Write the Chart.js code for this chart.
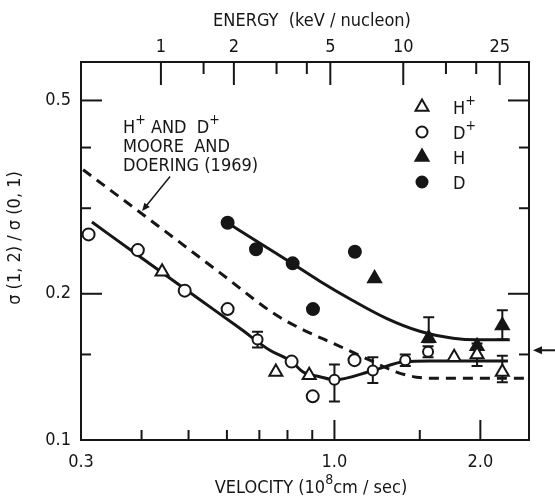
<!DOCTYPE html>
<html>
<head>
<meta charset="utf-8">
<title>σ(1,2)/σ(0,1) vs velocity</title>
<script src="https://cdn.jsdelivr.net/npm/chart.js@4"></script>
<style>
  html, body { margin: 0; padding: 0; background: #fff; }
  canvas { display: block; }
</style>
</head>
<body>
<canvas id="grafico" width="555" height="500"></canvas>
<script>
// velocity in 10^8 cm/sec, ratio sigma(1,2)/sigma(0,1)

// D+ (open circles)
const dPlusV  = [0.311, 0.393, 0.491, 0.602, 0.694, 0.816, 0.902, 1.00, 1.10, 1.20, 1.40, 1.56];
const dPlusS  = [0.265, 0.246, 0.203, 0.186, 0.161, 0.145, 0.123, 0.133, 0.146, 0.139, 0.146, 0.152];
const dPlusLo = [null, null, null, null, 0.155, null, null, 0.120, null, 0.131, 0.142, 0.148];
const dPlusHi = [null, null, null, null, 0.167, null, null, 0.143, null, 0.148, 0.150, 0.156];

// H+ (open triangles)
const hPlusV  = [0.441, 0.757, 0.887, 1.766, 1.969, 2.22];
const hPlusS  = [0.222, 0.138, 0.136, 0.148, 0.150, 0.138];
const hPlusLo = [null, null, null, null, 0.142, 0.1315];
const hPlusHi = [null, null, null, null, 0.158, 0.149];

// H (filled triangles)
const hV  = [1.21, 1.565, 1.969, 2.22];
const hS  = [0.215, 0.162, 0.156, 0.172];
const hLo = [null, 0.159, null, 0.161];
const hHi = [null, 0.179, null, 0.185];

// D (filled circles)
const dV = [0.602, 0.689, 0.820, 0.903, 1.102];
const dS = [0.280, 0.247, 0.231, 0.186, 0.244];

// solid curve through the ions
const ionFitV = [0.316, 0.397, 0.528, 0.638, 0.736, 0.816, 0.862, 0.933, 1.00, 1.20, 1.40, 1.57, 2.28];
const ionFitS = [0.281, 0.2384, 0.1944, 0.1698, 0.153, 0.145, 0.138, 0.135, 0.133, 0.139, 0.145, 0.1455, 0.1455];

// solid curve through the neutrals
const neuFitV = [0.602, 0.702, 0.820, 0.933, 1.093, 1.28, 1.50, 1.757, 1.969, 2.30];
const neuFitS = [0.280, 0.254, 0.2306, 0.2123, 0.1935, 0.178, 0.1674, 0.162, 0.1608, 0.1608];

// Moore and Doering (1969), dashed
const mdV = [0.303, 0.4165, 0.580, 0.757, 0.862, 1.01, 1.183, 1.343, 1.477, 1.624, 2.52];
const mdS = [0.360, 0.2839, 0.2211, 0.181, 0.1686, 0.157, 0.146, 0.138, 0.1347, 0.134, 0.134];

// axes
const velMin = 0.3, velMax = 2.52;
const sigMin = 0.1, sigMax = 0.6;
const velTicks = [0.3, 1.0, 2.0];
const velLabels = ['0.3', '1.0', '2.0'];
const velMajor = [1.0, 2.0];
const velMinor = [0.4, 0.5, 0.6, 0.7, 0.8, 0.9, 1.5];
const sigTicks = [0.1, 0.2, 0.5];
const sigLabels = ['0.1', '0.2', '0.5'];
const sigMajor = [0.2, 0.5];
const sigMinor = [0.15, 0.3, 0.4];
const enTicks = [1, 2, 5, 10, 25];
const enLabels = ['1', '2', '5', '10', '25'];
const enMinor = [1.5, 3, 4, 15, 20];
const KEV_V2 = 5.2;        // keV/nucleon for v = 1e8 cm/sec
const sideMark = 0.153;    // arrow on the right border

const FONTE = '"Liberation Sans Narrow", "DejaVu Sans Condensed", "Liberation Sans", sans-serif';
const COR = '#161616';

let meuGrafico = null;

document.addEventListener('DOMContentLoaded', () => {
    desenharGrafico();
});

function pontos(xs, ys, lo, hi) {
    return xs.map((x, i) => ({ x: x, y: ys[i], lo: lo ? lo[i] : null, hi: hi ? hi[i] : null }));
}

// splits "H^+" style text into normal and superscript pieces
function partes(txt) {
    const out = [];
    txt.split(/(\^.)/).forEach(p => {
        if (!p) return;
        if (p[0] === '^') out.push({ t: p.slice(1), sup: true });
        else out.push({ t: p, sup: false });
    });
    return out;
}

function textoRico(ctx, txt, x, y, tam, alinhar) {
    const pp = partes(txt);
    const fBase = tam + 'px ' + FONTE;
    const fSup = Math.round(tam * 0.78) + 'px ' + FONTE;
    let larg = 0;
    pp.forEach(p => {
        ctx.font = p.sup ? fSup : fBase;
        p.w = ctx.measureText(p.t).width;
        larg += p.w;
    });
    let cx = alinhar === 'center' ? x - larg / 2 : x;
    ctx.textAlign = 'left';
    ctx.textBaseline = 'middle';
    pp.forEach(p => {
        ctx.font = p.sup ? fSup : fBase;
        ctx.fillText(p.t, cx, p.sup ? y - tam * 0.45 : y);
        cx += p.w;
    });
}

function marcador(ctx, estilo, cheio, x, y, r) {
    ctx.beginPath();
    if (estilo === 'triangle') {
        const a = 2 * Math.PI / 3;
        ctx.moveTo(x, y - r);
        ctx.lineTo(x + Math.sin(a) * r, y - Math.cos(a) * r);
        ctx.lineTo(x + Math.sin(2 * a) * r, y - Math.cos(2 * a) * r);
        ctx.closePath();
    } else {
        ctx.arc(x, y, r, 0, Math.PI * 2);
    }
    ctx.fillStyle = cheio ? COR : '#fff';
    ctx.fill();
    ctx.lineWidth = 2;
    ctx.strokeStyle = COR;
    ctx.stroke();
}

function marcas(ctx, scale, valores, comp, lado, a) {
    valores.forEach(v => {
        const p = scale.getPixelForValue(v);
        ctx.beginPath();
        if (lado === 'bottom') { ctx.moveTo(p, a.bottom); ctx.lineTo(p, a.bottom - comp); }
        if (lado === 'top') { ctx.moveTo(p, a.top); ctx.lineTo(p, a.top + comp); }
        if (lado === 'left') { ctx.moveTo(a.left, p); ctx.lineTo(a.left + comp, p); }
        if (lado === 'right') { ctx.moveTo(a.right, p); ctx.lineTo(a.right - comp, p); }
        ctx.stroke();
    });
}

function seta(ctx, x0, y0, x1, y1, cab, meia) {
    const ang = Math.atan2(y1 - y0, x1 - x0);
    ctx.beginPath();
    ctx.moveTo(x0, y0);
    ctx.lineTo(x1 - Math.cos(ang) * cab * 0.6, y1 - Math.sin(ang) * cab * 0.6);
    ctx.stroke();
    ctx.beginPath();
    ctx.moveTo(x1, y1);
    ctx.lineTo(x1 - Math.cos(ang) * cab - Math.sin(ang) * meia, y1 - Math.sin(ang) * cab + Math.cos(ang) * meia);
    ctx.lineTo(x1 - Math.cos(ang) * cab + Math.sin(ang) * meia, y1 - Math.sin(ang) * cab - Math.cos(ang) * meia);
    ctx.closePath();
    ctx.fill();
}

// error bars, frame, tick marks, legend and labels
const moldura = {
    id: 'moldura',
    beforeDatasetsDraw(chart) {
        const ctx = chart.ctx;
        const xs = chart.scales.x, ys = chart.scales.y;
        ctx.save();
        ctx.strokeStyle = COR;
        ctx.lineWidth = 2;
        chart.data.datasets.forEach(ds => {
            ds.data.forEach(p => {
                if (p.lo == null || p.hi == null) return;
                const x = xs.getPixelForValue(p.x);
                const y1 = ys.getPixelForValue(p.lo), y2 = ys.getPixelForValue(p.hi);
                ctx.beginPath();
                ctx.moveTo(x, y1); ctx.lineTo(x, y2);
                ctx.moveTo(x - 5.5, y1); ctx.lineTo(x + 5.5, y1);
                ctx.moveTo(x - 5.5, y2); ctx.lineTo(x + 5.5, y2);
                ctx.stroke();
            });
        });
        ctx.restore();
    },
    afterDraw(chart) {
        const ctx = chart.ctx;
        const a = chart.chartArea;
        const xs = chart.scales.x, ys = chart.scales.y, es = chart.scales.energia;
        ctx.save();
        ctx.strokeStyle = COR;
        ctx.fillStyle = COR;
        ctx.lineWidth = 2;
        ctx.strokeRect(a.left, a.top, a.right - a.left, a.bottom - a.top);

        marcas(ctx, xs, velMajor, 20, 'bottom', a);
        marcas(ctx, xs, velMinor, 10, 'bottom', a);
        marcas(ctx, es, enTicks, 23, 'top', a);
        marcas(ctx, es, enMinor, 12, 'top', a);
        ['left', 'right'].forEach(l => {
            marcas(ctx, ys, sigMajor, 21, l, a);
            marcas(ctx, ys, sigMinor, 10, l, a);
        });

        // axis titles
        textoRico(ctx, 'ENERGY  (keV / nucleon)', 312, 21, 18, 'center');
        textoRico(ctx, 'VELOCITY (10^8cm / sec)', 311, 488, 18, 'center');
        ctx.save();
        ctx.translate(15, 238);
        ctx.rotate(-Math.PI / 2);
        textoRico(ctx, 'σ (1, 2) / σ (0, 1)', 0, 0, 18, 'center');
        ctx.restore();

        // legend
        const lx = a.right - 107, ly = a.top + 45;
        chart.data.datasets.slice(0, 4).forEach((ds, i) => {
            const y = ly + i * 25;
            const r = ds.pointStyle === 'triangle' ? 7.5 : 5.5;
            marcador(ctx, ds.pointStyle, ds.pointBackgroundColor !== '#fff', lx, y, r);
            ctx.fillStyle = COR;
            textoRico(ctx, ds.label, lx + 31, y + 2, 18, 'left');
        });

        // reference note and its arrow
        const tx = a.left + 42;
        textoRico(ctx, 'H^+ AND  D^+', tx, a.top + 66, 18, 'left');
        textoRico(ctx, 'MOORE  AND', tx, a.top + 85, 18, 'left');
        textoRico(ctx, 'DOERING (1969)', tx, a.top + 104, 18, 'left');
        ctx.lineWidth = 1.5;
        seta(ctx, xs.getPixelForValue(0.458), ys.getPixelForValue(0.3486),
             xs.getPixelForValue(0.401), ys.getPixelForValue(0.296), 8, 3.5);

        // arrow outside the right border
        ctx.lineWidth = 2;
        const ym = ys.getPixelForValue(sideMark);
        seta(ctx, chart.width, ym, a.right + 4, ym, 9, 4);
        ctx.restore();
    }
};

function desenharGrafico() {
    const ctx = document.getElementById('grafico').getContext('2d');
    if (meuGrafico) {
        meuGrafico.destroy();
    }

    const fonteTicks = { family: FONTE, size: 18 };
    const marcador = (estilo, cheio) => ({
        pointStyle: estilo,
        pointBackgroundColor: cheio ? COR : '#fff',
        pointBorderColor: COR,
        pointBorderWidth: 2,
        order: 0
    });
    const curva = (dados, tracejado) => ({
        type: 'line',
        data: dados,
        borderColor: COR,
        borderWidth: 3,
        borderDash: tracejado ? [10, 7] : [],
        pointRadius: 0,
        fill: false,
        cubicInterpolationMode: 'monotone',
        order: 1
    });

    meuGrafico = new Chart(ctx, {
        type: 'scatter',
        data: {
            datasets: [
                Object.assign({ label: 'H^+', data: pontos(hPlusV, hPlusS, hPlusLo, hPlusHi), pointRadius: 7.5 }, marcador('triangle', false)),
                Object.assign({ label: 'D^+', data: pontos(dPlusV, dPlusS, dPlusLo, dPlusHi),
                    pointRadius: c => (c.raw && c.raw.lo != null ? 5 : 6) }, marcador('circle', false)),
                Object.assign({ label: 'H', data: pontos(hV, hS, hLo, hHi), pointRadius: 7.5 }, marcador('triangle', true)),
                Object.assign({ label: 'D', data: pontos(dV, dS), pointRadius: 6 }, marcador('circle', true)),
                Object.assign({ label: 'ions fit' }, curva(pontos(ionFitV, ionFitS), false)),
                Object.assign({ label: 'neutrals fit' }, curva(pontos(neuFitV, neuFitS), false)),
                Object.assign({ label: 'Moore and Doering (1969)' }, curva(pontos(mdV, mdS), true))
            ]
        },
        options: {
            responsive: false,
            animation: false,
            devicePixelRatio: 1,
            layout: { padding: { left: 0, right: 26, top: 0, bottom: 0 } },
            plugins: {
                legend: { display: false },
                tooltip: { enabled: false }
            },
            scales: {
                x: {
                    type: 'logarithmic',
                    position: 'bottom',
                    min: velMin,
                    max: velMax,
                    afterBuildTicks: s => { s.ticks = velTicks.map(v => ({ value: v })); },
                    afterFit: s => { s.height = 60; },
                    ticks: {
                        callback: (v, i) => velLabels[i],
                        font: fonteTicks, color: COR, padding: 12,
                        maxRotation: 0, autoSkip: false
                    },
                    grid: { display: false, drawTicks: false },
                    border: { display: false }
                },
                energia: {
                    type: 'logarithmic',
                    position: 'top',
                    min: KEV_V2 * velMin * velMin,
                    max: KEV_V2 * velMax * velMax,
                    afterBuildTicks: s => { s.ticks = enTicks.map(v => ({ value: v })); },
                    afterFit: s => { s.height = 62; },
                    ticks: {
                        callback: (v, i) => enLabels[i],
                        font: fonteTicks, color: COR, padding: 4,
                        maxRotation: 0, autoSkip: false
                    },
                    grid: { display: false, drawTicks: false },
                    border: { display: false }
                },
                y: {
                    type: 'logarithmic',
                    min: sigMin,
                    max: sigMax,
                    afterBuildTicks: s => { s.ticks = sigTicks.map(v => ({ value: v })); },
                    afterFit: s => { s.width = 81; },
                    ticks: {
                        callback: (v, i) => sigLabels[i],
                        font: fonteTicks, color: COR, padding: 10,
                        autoSkip: false
                    },
                    grid: { display: false, drawTicks: false },
                    border: { display: false }
                }
            }
        },
        plugins: [moldura]
    });
}
</script>
</body>
</html>
